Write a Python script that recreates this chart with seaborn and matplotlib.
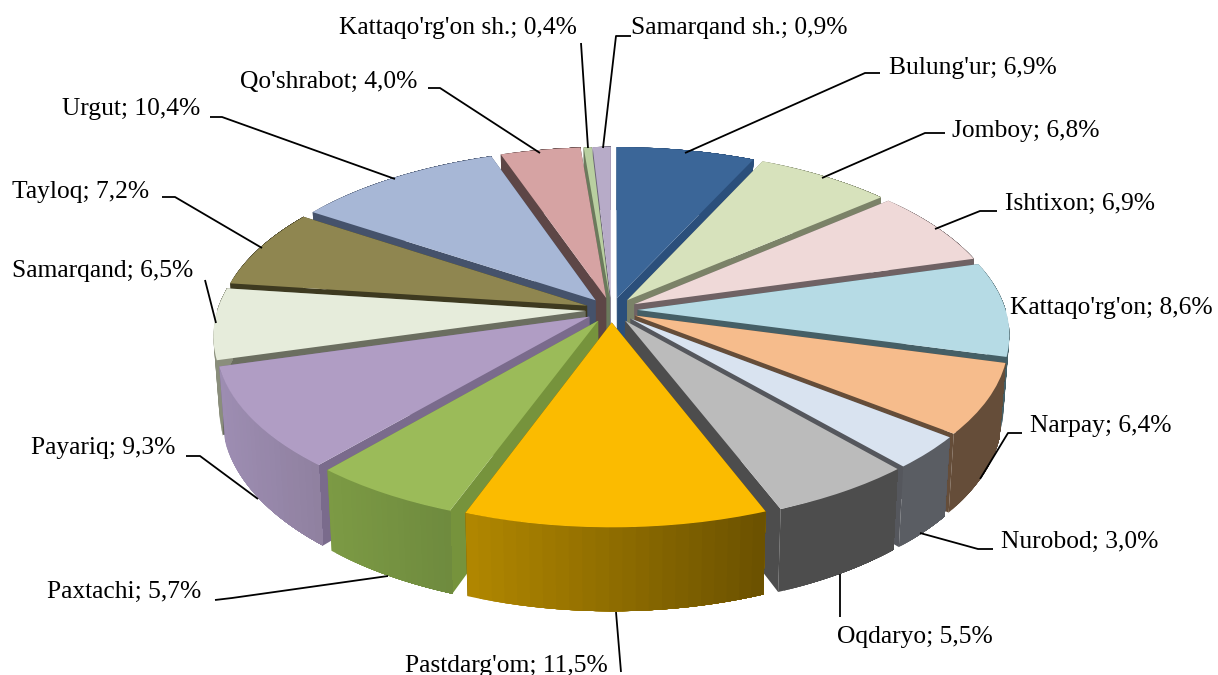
import numpy as np
import matplotlib
matplotlib.use("Agg")
import matplotlib.pyplot as plt
from matplotlib.colors import to_rgb
from matplotlib.transforms import Transform
import seaborn as sns

districts = ["Bulung'ur", "Jomboy", "Ishtixon", "Kattaqo'rg'on", "Narpay", "Nurobod", "Oqdaryo",
             "Pastdarg'om", "Paxtachi", "Payariq", "Samarqand", "Tayloq", "Urgut", "Qo'shrabot",
             "Kattaqo'rg'on sh.", "Samarqand sh."]
shares = [6.9, 6.8, 6.9, 8.6, 6.4, 3.0, 5.5, 11.5, 5.7, 9.3, 6.5, 7.2, 10.4, 4.0, 0.4, 0.9]

top_colors = ["#3B6698", "#D7E2BC", "#EFD9D8", "#B6DBE5", "#F6BC8C", "#D9E3F0", "#BBBBBB", "#FBBB00",
              "#9BBB59", "#B09DC4", "#E6ECDB", "#8F8650", "#A7B7D6", "#D6A3A3", "#B9CFA0", "#B7ABC8"]
cut_colors = ["#2B4F7B", "#7B8268", "#6F6264", "#455F66", "#654D39", "#55575D", "#4D4D4D", "#6A5000",
              "#76933C", "#7A6B8C", "#6B6E60", "#3E3A20", "#45526B", "#5D4646", "#6B7A5C", "#6B6478"]
wall_left = ["#2B4F7B", "#7B8268", "#6F6264", "#455F66", "#654D39", "#5A5D63", "#4D4D4D", "#B08600",
             "#7C9A44", "#9D8DB2", "#8A8E7C", "#3E3A20", "#45526B", "#5D4646", "#6B7A5C", "#6B6478"]
wall_right = ["#2B4F7B", "#7B8268", "#6F6264", "#455F66", "#654D39", "#5A5D63", "#4D4D4D", "#695000",
              "#6E8A3E", "#8F809F", "#8A8E7C", "#3E3A20", "#45526B", "#5D4646", "#6B7A5C", "#6B6478"]

EXPLODE = 0.071
CX, CY, RX, RY, P, H = 611.5, 310.0, 368.0, 174.0, 0.133, 72.0


def project(X, Y, Z=0.0):
    s = 1.0 / (1.0 + P * np.asarray(Y))
    shrink = 1.0 - 0.015 * Z
    return CX + RX * np.asarray(X) * s * shrink, CY - RY * np.asarray(Y) * s + H * Z * s


class Perspective(Transform):
    input_dims = output_dims = 2
    has_inverse = False
    is_separable = False

    def transform_non_affine(self, values):
        values = np.asarray(values, float)
        return np.column_stack(project(values[:, 0], values[:, 1]))


sns.set_theme(style="white")
plt.rcParams["font.family"] = ["Liberation Serif", "DejaVu Serif"]

fig = plt.figure(figsize=(12.18, 6.75), dpi=100, facecolor="white")
ax = fig.add_axes([0, 0, 1, 1])
wedges, _ = ax.pie(shares, startangle=90, counterclock=False, radius=1,
                   explode=[EXPLODE] * len(shares), colors=sns.color_palette(top_colors),
                   wedgeprops=dict(linewidth=0))
ax.set_aspect("auto")
ax.set_xlim(0, 1218)
ax.set_ylim(675, 0)
ax.axis("off")

persp = Perspective()

z = 2
for i in sorted(range(len(wedges)), key=lambda k: -wedges[k].center[1]):
    w = wedges[i]
    cx, cy = w.center
    t = np.radians(np.linspace(w.theta1, w.theta2, 24))
    Xa, Ya = cx + w.r * np.cos(t), cy + w.r * np.sin(t)
    for tt in (t[0], t[-1]):
        Xe, Ye = cx + w.r * np.cos(tt), cy + w.r * np.sin(tt)
        x0, y0 = project(cx, cy, 0)
        x1, y1 = project(Xe, Ye, 0)
        x2, y2 = project(Xe, Ye, 1)
        x3, y3 = project(cx, cy, 1)
        ax.fill([x0, x1, x2, x3], [y0, y1, y2, y3], color=cut_colors[i], lw=0, zorder=z)
    z += 1
    xt, yt = project(Xa, Ya, 0)
    xb, yb = project(Xa, Ya, 1)
    c0, c1 = np.array(to_rgb(wall_left[i])), np.array(to_rgb(wall_right[i]))
    xmin, xmax = xt.min(), xt.max()
    order = np.argsort(xt)
    xts, yts, xbs, ybs = xt[order], yt[order], xb[order], yb[order]
    # every band reaches to the right end of the rim, so bands overlap without seams
    for j in range(len(t) - 1):
        f = (xts[j] - xmin) / max(xmax - xmin, 1e-6)
        ax.fill(np.r_[xts[j:], xbs[j:][::-1]], np.r_[yts[j:], ybs[j:][::-1]],
                color=tuple(c0 + (c1 - c0) * f), lw=0, zorder=z)
    z += 1
    w.set_transform(persp + ax.transData)
    w.set_zorder(z)
    z += 1

label_x = [889, 952, 1005, 1010, 1030, 1001, 837, 405, 47, 31, 12, 12, 62, 240, 339, 631]
label_y = [68, 131, 204, 308, 426, 542, 637, 666, 592, 448, 271, 192, 109, 82, 28, 28]
for name, v, x, y in zip(districts, shares, label_x, label_y):
    ax.text(x, y, f"{name}; {str(v).replace('.', ',')}%", fontsize=18.4, color="black",
            ha="left", va="center", zorder=200)

leaders = [
    [(880, 73), (865, 73), (685, 153)],
    [(945, 133), (925, 133), (822, 178)],
    [(997, 211), (980, 211), (935, 229)],
    [(1022, 433), (1008, 433), (980, 479)],
    [(993, 549), (978, 549), (920, 533)],
    [(840, 574), (840, 617)],
    [(616, 612), (621, 672)],
    [(215, 600), (232, 598), (388, 576)],
    [(186, 456), (200, 456), (258, 499)],
    [(205, 280), (216, 323)],
    [(162, 197), (175, 197), (262, 248)],
    [(210, 117), (222, 117), (395, 179)],
    [(428, 88), (440, 88), (540, 153)],
    [(581, 43), (588, 148)],
    [(631, 36), (616, 36), (603, 148)],
]
for pts in leaders:
    xs, ys = zip(*pts)
    ax.plot(xs, ys, color="black", lw=1.3, zorder=150, solid_capstyle="butt")

fig.savefig("out.png", dpi=100, facecolor="white")
